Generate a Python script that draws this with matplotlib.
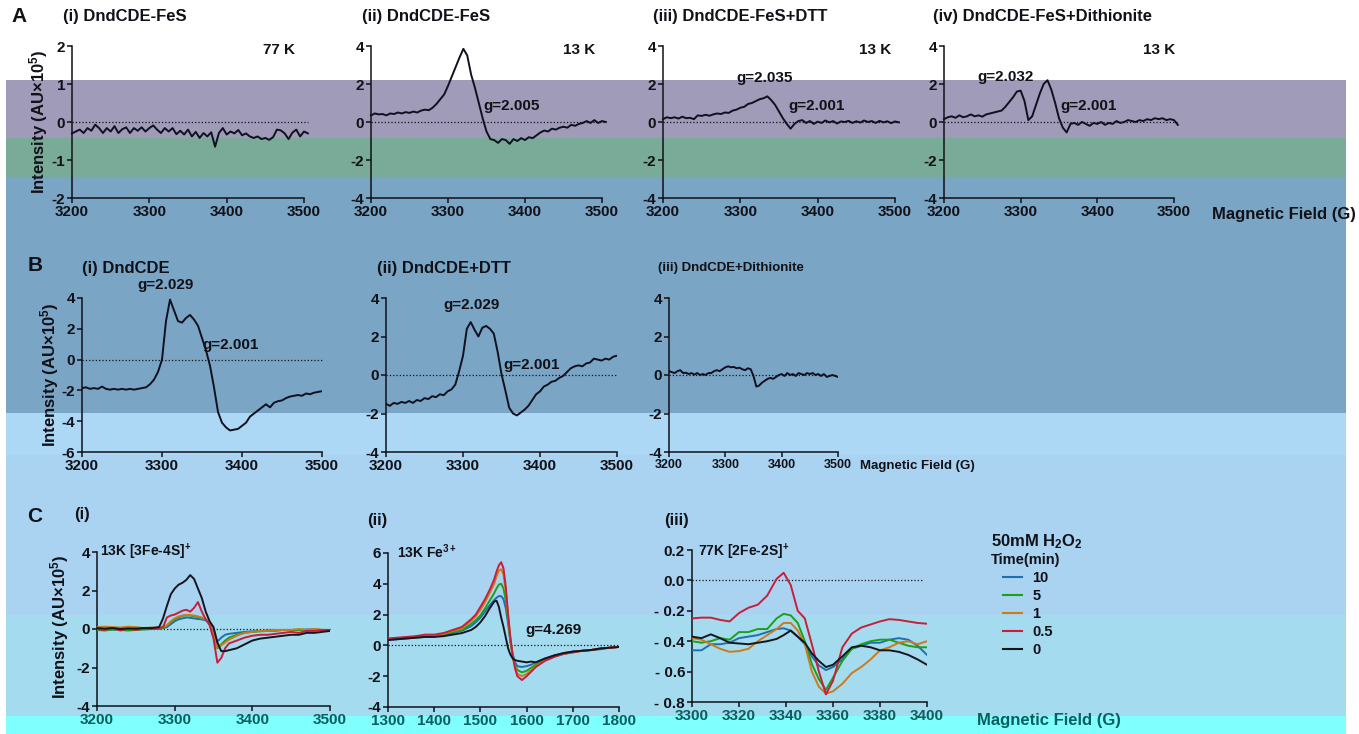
import numpy as np
import matplotlib
matplotlib.use("Agg")
import matplotlib.pyplot as plt
from matplotlib.patches import Rectangle
from matplotlib.lines import Line2D

# ---------------- data ----------------
# Panel A: field grid 3200..3505 G (5 G step), intensity in AU x 1e5
a_field = np.arange(3200, 3506, 5)
a1_77K = [-0.30, -0.25, -0.20, -0.29, -0.16, -0.23, -0.07, -0.16, -0.29, -0.16,
          -0.25, -0.11, -0.29, -0.19, -0.14, -0.29, -0.16, -0.23, -0.14, -0.25,
          -0.16, -0.09, -0.20, -0.29, -0.16, -0.25, -0.16, -0.32, -0.23, -0.33,
          -0.20, -0.38, -0.26, -0.42, -0.29, -0.38, -0.27, -0.65, -0.29, -0.16,
          -0.33, -0.25, -0.30, -0.21, -0.35, -0.30, -0.38, -0.42, -0.38, -0.45,
          -0.42, -0.47, -0.40, -0.20, -0.22, -0.30, -0.45, -0.28, -0.20, -0.38,
          -0.25, -0.30]
a2_13K = [0.35, 0.45, 0.40, 0.42, 0.35, 0.45, 0.42, 0.50, 0.45, 0.52,
          0.48, 0.55, 0.50, 0.60, 0.65, 0.62, 0.75, 0.95, 1.20, 1.45,
          1.90, 2.40, 2.90, 3.40, 3.85, 3.50, 2.50, 1.80, 1.00, 0.20,
          -0.50, -0.90, -0.95, -1.10, -0.90, -0.95, -1.15, -0.90, -1.00, -0.85,
          -0.95, -0.80, -0.85, -0.70, -0.55, -0.45, -0.50, -0.35, -0.40, -0.30,
          -0.25, -0.30, -0.15, -0.20, -0.10, -0.05, 0.05, -0.05, 0.10, -0.05,
          0.05, 0.00]
a3_dtt = [0.15, 0.25, 0.20, 0.25, 0.18, 0.28, 0.20, 0.22, 0.15, 0.35,
          0.32, 0.38, 0.33, 0.40, 0.45, 0.42, 0.50, 0.48, 0.60, 0.65,
          0.75, 0.80, 0.95, 1.00, 1.10, 1.20, 1.25, 1.35, 1.15, 0.90,
          0.55, 0.20, -0.10, -0.35, -0.10, 0.05, 0.10, -0.05, 0.05, -0.10,
          0.02, -0.05, 0.08, -0.02, 0.05, -0.08, 0.03, 0.00, 0.06, -0.05,
          0.04, -0.03, 0.08, 0.00, 0.05, -0.05, 0.06, -0.02, 0.04, -0.06,
          0.03, -0.02]
a4_dith = [0.15, 0.25, 0.30, 0.22, 0.35, 0.25, 0.30, 0.40, 0.30, 0.35,
           0.28, 0.40, 0.45, 0.50, 0.55, 0.60, 0.80, 1.05, 1.30, 1.60,
           1.65, 1.10, 0.10, 0.30, 0.90, 1.50, 2.00, 2.20, 1.70, 1.00,
           0.20, -0.30, -0.55, -0.10, -0.05, -0.15, 0.00, -0.10, -0.20, -0.05,
           -0.10, 0.00, -0.15, -0.05, -0.10, 0.05, -0.05, 0.00, 0.10, 0.05,
           0.00, 0.10, 0.05, 0.15, 0.10, 0.20, 0.15, 0.20, 0.10, 0.15,
           0.10, -0.15]

# Panel B: field grid 3200..3500 G (5 G step)
b_field = np.arange(3200, 3501, 5)
b1_dndcde = [-1.85, -1.80, -1.90, -1.85, -1.90, -1.75, -1.90, -1.95, -1.90, -1.95,
             -1.90, -1.95, -1.90, -1.95, -1.90, -1.85, -1.80, -1.60, -1.30, -0.80,
             0.00, 2.50, 3.90, 3.20, 2.50, 2.40, 2.70, 2.90, 2.60, 2.20,
             1.40, 0.60, -0.40, -1.80, -3.40, -4.10, -4.40, -4.60, -4.55, -4.50,
             -4.30, -4.10, -3.70, -3.50, -3.30, -3.10, -2.90, -3.10, -2.80, -2.70,
             -2.65, -2.50, -2.40, -2.35, -2.30, -2.35, -2.20, -2.25, -2.15, -2.10,
             -2.05]
b2_dtt = [-1.50, -1.60, -1.45, -1.50, -1.40, -1.45, -1.35, -1.45, -1.30, -1.35,
          -1.20, -1.25, -1.10, -1.15, -1.00, -1.05, -0.85, -0.75, -0.50, 0.20,
          1.00, 2.40, 2.75, 2.35, 2.00, 2.45, 2.55, 2.40, 2.15, 1.20,
          0.05, -0.80, -1.70, -2.00, -2.10, -1.95, -1.80, -1.60, -1.30, -1.00,
          -0.85, -0.60, -0.50, -0.35, -0.30, -0.15, -0.05, 0.15, 0.35, 0.45,
          0.50, 0.45, 0.60, 0.65, 0.85, 0.80, 0.75, 0.85, 0.80, 0.95,
          1.00]
b3_dith = [0.20, 0.15, 0.10, 0.20, 0.25, 0.10, 0.12, 0.05, 0.10, 0.02,
           0.10, 0.00, 0.05, 0.00, 0.10, 0.10, 0.20, 0.25, 0.20, 0.30,
           0.40, 0.45, 0.40, 0.42, 0.35, 0.38, 0.30, 0.25, 0.35, 0.30,
           -0.05, -0.60, -0.55, -0.40, -0.30, -0.20, -0.15, -0.20, -0.10, 0.00,
           0.05, -0.05, 0.10, 0.00, 0.05, -0.05, 0.10, 0.05, 0.00, 0.10,
           0.05, 0.10, 0.00, 0.05, -0.05, 0.05, -0.10, -0.05, 0.00, -0.05,
           -0.10]

# Panel C: H2O2 time course (minutes)
time_labels = ['10', '5', '1', '0.5', '0']
time_colors = ['#1f6fb0', '#1ca01c', '#cc7a1e', '#c81e3c', '#151520']

c1_field = [3200, 3210, 3220, 3230, 3240, 3250, 3260, 3270, 3280,
            3285, 3290, 3295, 3300, 3305, 3310, 3315, 3320, 3325, 3330,
            3335, 3340, 3345, 3350, 3355, 3360, 3365, 3370,
            3380, 3390, 3400, 3410, 3420, 3430, 3440, 3450, 3460, 3470,
            3480, 3490, 3500]
c1_t10 = [-0.02, 0.00, -0.03, 0.00, -0.02, 0.00, 0.00, 0.02, 0.02,
          0.05, 0.10, 0.25, 0.40, 0.50, 0.55, 0.60, 0.58, 0.55, 0.52,
          0.50, 0.45, 0.30, -0.20, -0.65, -0.45, -0.30, -0.25,
          -0.20, -0.15, -0.12, -0.10, -0.08, -0.08, -0.05, -0.05, -0.05, -0.03,
          -0.03, -0.05, -0.05]
c1_t5 = [-0.05, -0.08, -0.03, -0.05, -0.08, -0.05, -0.03, 0.00, 0.00,
         0.05, 0.15, 0.35, 0.50, 0.60, 0.68, 0.72, 0.70, 0.66, 0.62,
         0.58, 0.50, 0.30, -0.40, -1.00, -0.80, -0.60, -0.45,
         -0.30, -0.20, -0.15, -0.12, -0.10, -0.08, -0.05, -0.05, -0.05, -0.05,
         -0.03, -0.05, -0.05]
c1_t1 = [0.10, 0.12, 0.10, 0.08, 0.12, 0.10, 0.05, 0.08, 0.05,
         0.10, 0.20, 0.40, 0.55, 0.65, 0.70, 0.73, 0.72, 0.70, 0.65,
         0.60, 0.50, 0.30, -0.30, -0.95, -0.85, -0.70, -0.55,
         -0.35, -0.20, -0.15, -0.10, -0.10, -0.05, -0.05, -0.05, 0.00, -0.05,
         0.00, -0.05, -0.05]
c1_t05 = [0.00, -0.05, 0.05, -0.08, 0.02, -0.05, 0.03, 0.00, 0.05,
          0.10, 0.60, 0.70, 0.75, 0.85, 0.95, 1.00, 0.90, 1.10, 1.40,
          0.90, 0.50, 0.20, -0.50, -1.75, -1.50, -1.00, -0.75,
          -0.60, -0.45, -0.35, -0.30, -0.30, -0.25, -0.20, -0.15, -0.20, -0.10,
          -0.10, -0.05, -0.05]
c1_t0 = [0.05, 0.02, 0.05, 0.00, 0.03, 0.02, 0.05, 0.05, 0.10,
         0.55, 1.20, 1.80, 2.10, 2.30, 2.40, 2.55, 2.80, 2.60, 2.10,
         1.60, 0.90, 0.40, 0.10, -0.70, -1.15, -1.15, -1.10,
         -1.00, -0.80, -0.60, -0.50, -0.45, -0.40, -0.35, -0.30, -0.30, -0.20,
         -0.20, -0.15, -0.10]

c2_field = [1300, 1320, 1340, 1360, 1380, 1400, 1420, 1440, 1460, 1480,
            1490, 1500, 1510, 1520, 1530,
            1535, 1540, 1545, 1550, 1555, 1560, 1565, 1570, 1575, 1580,
            1590, 1600, 1610, 1620,
            1640, 1660, 1680, 1700, 1720, 1740, 1760, 1780, 1800]
c2_t10 = [0.35, 0.40, 0.45, 0.50, 0.55, 0.60, 0.65, 0.80, 0.95, 1.25,
          1.50, 1.80, 2.20, 2.60, 2.95,
          3.10, 3.20, 3.20, 3.00, 2.40, 1.40, 0.20, -0.60, -1.10, -1.35,
          -1.40, -1.35, -1.25, -1.10,
          -0.85, -0.65, -0.50, -0.40, -0.35, -0.30, -0.25, -0.15, -0.10]
c2_t5 = [0.40, 0.45, 0.50, 0.50, 0.60, 0.60, 0.70, 0.85, 1.00, 1.40,
         1.65, 1.95, 2.40, 2.90, 3.40,
         3.70, 3.95, 4.00, 3.70, 2.90, 1.60, 0.30, -0.70, -1.30, -1.60,
         -1.75, -1.65, -1.45, -1.25,
         -0.90, -0.70, -0.55, -0.45, -0.35, -0.30, -0.20, -0.15, -0.10]
c2_t1 = [0.40, 0.45, 0.50, 0.55, 0.65, 0.65, 0.75, 0.95, 1.10, 1.60,
         1.90, 2.30, 2.80, 3.40, 4.00,
         4.50, 4.85, 4.95, 4.60, 3.50, 1.90, 0.40, -0.70, -1.40, -1.85,
         -2.00, -1.85, -1.60, -1.35,
         -0.95, -0.70, -0.55, -0.45, -0.35, -0.30, -0.20, -0.15, -0.10]
c2_t05 = [0.45, 0.50, 0.55, 0.60, 0.70, 0.70, 0.80, 1.00, 1.20, 1.70,
          2.00, 2.50, 3.00, 3.60, 4.30,
          4.80, 5.20, 5.40, 5.00, 3.80, 2.00, 0.50, -0.70, -1.50, -2.00,
          -2.25, -2.00, -1.70, -1.40,
          -1.00, -0.75, -0.55, -0.45, -0.35, -0.30, -0.20, -0.15, -0.10]
c2_t0 = [0.35, 0.40, 0.45, 0.50, 0.55, 0.55, 0.60, 0.70, 0.80, 1.00,
         1.20, 1.50, 1.90, 2.40, 2.85,
         2.90, 2.50, 1.80, 1.20, 0.50, -0.20, -0.60, -0.85, -0.95, -1.00,
         -1.05, -1.10, -1.05, -1.10,
         -0.85, -0.65, -0.50, -0.40, -0.35, -0.30, -0.20, -0.15, -0.10]

c3_field = [3300, 3304, 3308, 3312, 3316, 3320, 3324, 3328, 3332, 3336,
            3339, 3342, 3345, 3348, 3351, 3354, 3357, 3360,
            3364, 3368, 3372, 3376, 3380, 3384, 3388, 3392, 3396, 3400]
c3_t10 = [-0.46, -0.46, -0.42, -0.42, -0.41, -0.38, -0.37, -0.36, -0.34, -0.32,
          -0.315, -0.33, -0.37, -0.42, -0.50, -0.56, -0.59, -0.57,
          -0.52, -0.45, -0.43, -0.41, -0.41, -0.39, -0.38, -0.39, -0.43, -0.49]
c3_t5 = [-0.40, -0.41, -0.40, -0.38, -0.39, -0.34, -0.34, -0.32, -0.32, -0.25,
         -0.22, -0.23, -0.28, -0.40, -0.55, -0.65, -0.72, -0.64,
         -0.53, -0.45, -0.42, -0.40, -0.39, -0.39, -0.41, -0.43, -0.44, -0.44]
c3_t1 = [-0.38, -0.39, -0.42, -0.45, -0.47, -0.465, -0.45, -0.40, -0.36, -0.32,
         -0.28, -0.28, -0.33, -0.42, -0.60, -0.70, -0.745, -0.73,
         -0.68, -0.61, -0.57, -0.52, -0.46, -0.44, -0.41, -0.40, -0.42, -0.40]
c3_t05 = [-0.25, -0.245, -0.245, -0.26, -0.27, -0.215, -0.18, -0.16, -0.10, 0.01,
          0.05, -0.03, -0.20, -0.25, -0.42, -0.60, -0.75, -0.66,
          -0.44, -0.35, -0.31, -0.29, -0.27, -0.255, -0.26, -0.27, -0.28, -0.285]
c3_t0 = [-0.37, -0.38, -0.355, -0.38, -0.41, -0.415, -0.42, -0.41, -0.40, -0.385,
         -0.36, -0.33, -0.37, -0.41, -0.48, -0.53, -0.57, -0.555,
         -0.50, -0.44, -0.43, -0.44, -0.46, -0.46, -0.47, -0.49, -0.52, -0.555]

c3_ticklabels = ['- 0.8', '- 0.6', '- 0.4', '- 0.2', '0.0', '0.2']

# ---------------- style ----------------
plt.rcParams['font.family'] = ['Liberation Sans', 'DejaVu Sans']
plt.rcParams['font.weight'] = 'bold'
plt.rcParams['axes.unicode_minus'] = False
plt.rcParams['mathtext.fontset'] = 'custom'
plt.rcParams['mathtext.rm'] = 'Liberation Sans:bold'
plt.rcParams['mathtext.bf'] = 'Liberation Sans:bold'
plt.rcParams['mathtext.it'] = 'Liberation Sans:bold'
plt.rcParams['mathtext.default'] = 'rm'

INK = '#111118'
TEAL = '#0b5e5e'
TRACE = '#101020'
W, H = 1359, 734

fig = plt.figure(figsize=(W / 100, H / 100), dpi=100)
fig.patch.set_facecolor('white')

bands = [(80, 138, '#9f9bb8'), (138, 178, '#79ab98'), (178, 413, '#7aa5c5'),
         (413, 455, '#acd8f6'), (455, 615, '#a9d3f1'), (615, 716, '#a5dbee'),
         (716, 734, '#80ffff')]
for top, bot, col in bands:
    fig.add_artist(Rectangle((6 / W, 1 - bot / H), 1340 / W, (bot - top) / H,
                             transform=fig.transFigure, facecolor=col,
                             edgecolor='none', zorder=-10))


def add_ax(l, t, r, b):
    return fig.add_axes([l / W, 1 - b / H, (r - l) / W, (b - t) / H])


def style(ax, xlim, ylim, xt, yt, xsize=11, ysize=11, xcolor=INK):
    ax.set_facecolor('none')
    ax.set_xlim(*xlim)
    ax.set_ylim(*ylim)
    ax.set_xticks(xt)
    ax.set_yticks(yt)
    ax.spines['top'].set_visible(False)
    ax.spines['right'].set_visible(False)
    for s in ('left', 'bottom'):
        ax.spines[s].set_linewidth(1.1)
        ax.spines[s].set_color(INK)
    ax.tick_params(axis='both', direction='out', length=3.5, width=1.1,
                   color=INK, pad=1.5)
    ax.tick_params(axis='x', labelsize=xsize, labelcolor=xcolor)
    ax.tick_params(axis='y', labelsize=ysize, labelcolor=INK)


def T(x, y, s, size=12, color=INK, **kw):
    kw.setdefault('ha', 'left')
    kw.setdefault('va', 'center')
    fig.text(x / W, 1 - y / H, s, fontsize=size, fontweight='bold',
             color=color, **kw)


def zero_line(ax, x0, x1):
    ax.plot([x0, x1], [0, 0], ls=':', color=INK, lw=0.9, clip_on=False,
            zorder=1)


xt_a = [3200, 3300, 3400, 3500]

# ---------------- Panel A ----------------
a_specs = [
    ((72, 46, 304, 198), a1_77K, (-2, 2), [-2, -1, 0, 1, 2]),
    ((371, 46, 602, 198), a2_13K, (-4, 4), [-4, -2, 0, 2, 4]),
    ((663, 46, 895, 198), a3_dtt, (-4, 4), [-4, -2, 0, 2, 4]),
    ((944, 46, 1174, 198), a4_dith, (-4, 4), [-4, -2, 0, 2, 4]),
]
for rect, vals, ylim, yt in a_specs:
    ax = add_ax(*rect)
    style(ax, (3200, 3500), ylim, xt_a, yt)
    zero_line(ax, a_field[0], a_field[-1])
    ax.plot(a_field, vals, color=TRACE, lw=1.4, clip_on=False, zorder=3)

T(11, 16, 'A', size=15)
T(63, 17, '(i) DndCDE-FeS')
T(263, 50, '77 K', size=11)
T(362, 17, '(ii) DndCDE-FeS')
T(563, 50, '13 K', size=11)
T(483, 106, 'g=2.005', size=11)
T(653, 17, '(iii) DndCDE-FeS+DTT')
T(859, 50, '13 K', size=11)
T(736, 78, 'g=2.035', size=11)
T(788, 106, 'g=2.001', size=11)
T(933, 17, '(iv) DndCDE-FeS+Dithionite')
T(1143, 50, '13 K', size=11)
T(977, 77, 'g=2.032', size=11)
T(1060, 106, 'g=2.001', size=11)
T(1212, 215, 'Magnetic Field (G)', size=12)
T(39, 122, r'Intensity (AU×10$^{5}$)', size=12, rotation=90, ha='center')

# ---------------- Panel B ----------------
b_specs = [
    ((82, 298, 322, 452), b1_dndcde, (-6, 4), [-6, -4, -2, 0, 2, 4], 11),
    ((386, 298, 617, 452), b2_dtt, (-4, 4), [-4, -2, 0, 2, 4], 11),
    ((669, 298, 838, 452), b3_dith, (-4, 4), [-4, -2, 0, 2, 4], 9),
]
for rect, vals, ylim, yt, xs in b_specs:
    ax = add_ax(*rect)
    style(ax, (3200, 3500), ylim, xt_a, yt, xsize=xs)
    zero_line(ax, b_field[0], b_field[-1])
    ax.plot(b_field, vals, color=TRACE, lw=1.4, zorder=3)

T(28, 265, 'B', size=15)
T(82, 268, '(i) DndCDE')
T(137, 285, 'g=2.029', size=11)
T(202, 345, 'g=2.001', size=11)
T(377, 268, '(ii) DndCDE+DTT')
T(443, 305, 'g=2.029', size=11)
T(503, 365, 'g=2.001', size=11)
T(658, 268, '(iii) DndCDE+Dithionite', size=9.5)
T(860, 466, 'Magnetic Field (G)', size=9.5)
T(50, 375, r'Intensity (AU×10$^{5}$)', size=12, rotation=90, ha='center')

# ---------------- Panel C ----------------
axc1 = add_ax(97, 552, 330, 706)
style(axc1, (3200, 3500), (-4, 4), xt_a, [-4, -2, 0, 2, 4], xcolor=TEAL)
zero_line(axc1, 3200, 3500)
for vals, col in zip([c1_t10, c1_t5, c1_t1, c1_t05, c1_t0], time_colors):
    axc1.plot(c1_field, vals, color=col, lw=1.4, zorder=3)

axc2 = add_ax(388, 553, 619, 707)
style(axc2, (1300, 1800), (-4, 6), [1300, 1400, 1500, 1600, 1700, 1800],
      [-4, -2, 0, 2, 4, 6], xcolor=TEAL)
zero_line(axc2, 1300, 1800)
for vals, col in zip([c2_t10, c2_t5, c2_t1, c2_t05, c2_t0], time_colors):
    axc2.plot(c2_field, vals, color=col, lw=1.4, zorder=3)

axc3 = add_ax(692, 550, 927, 702)
style(axc3, (3300, 3400), (-0.8, 0.2), [3300, 3320, 3340, 3360, 3380, 3400],
      [-0.8, -0.6, -0.4, -0.2, 0.0, 0.2], xcolor=TEAL)
axc3.set_yticklabels(c3_ticklabels)
zero_line(axc3, 3300, 3398)
for vals, col, lab in zip([c3_t10, c3_t5, c3_t1, c3_t05, c3_t0], time_colors,
                          time_labels):
    axc3.plot(c3_field, vals, color=col, lw=1.4, zorder=3, label=lab)

leg_handles = [Line2D([], [], color=c, lw=1.5) for c in time_colors]
leg = axc3.legend(leg_handles, time_labels, loc='upper left',
                  bbox_to_anchor=(1003 / W, 1 - 571 / H),
                  bbox_transform=fig.transFigure, frameon=False,
                  fontsize=10.5, handlelength=1.3, handletextpad=0.7,
                  labelspacing=0.28, borderpad=0, borderaxespad=0)
for t in leg.get_texts():
    t.set_fontweight('bold')
    t.set_color(INK)

T(27, 517, 'C', size=15)
T(74, 515, '(i)')
T(100, 552, r'13K [3Fe-4S]$^{+}$', size=10)
T(367, 521, '(ii)')
T(397, 552, r'13K Fe$^{3+}$', size=10)
T(525, 630, 'g=4.269', size=11)
T(664, 520, '(iii)')
T(698, 552, r'77K [2Fe-2S]$^{+}$', size=10)
T(991, 542, r'50mM H$_{2}$O$_{2}$', size=12)
T(991, 560, 'Time(min)', size=10.5)
T(977, 721, 'Magnetic Field (G)', size=12, color=TEAL)
T(60, 627, r'Intensity (AU×10$^{5}$)', size=12, rotation=90, ha='center')

fig.savefig('out.png', dpi=100, facecolor='white')
